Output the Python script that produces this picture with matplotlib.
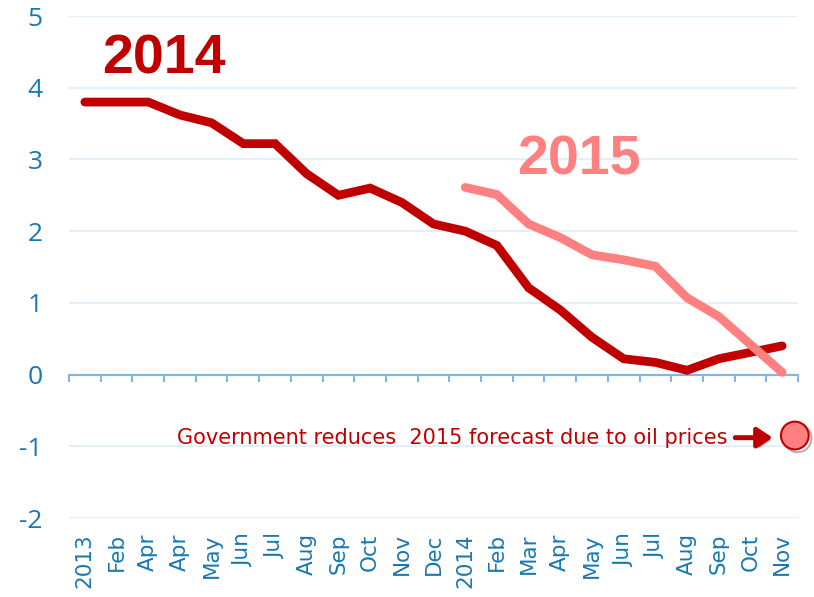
import numpy as np
import matplotlib
matplotlib.use("Agg")
import matplotlib.pyplot as plt
import matplotlib.patheffects as pe

categories = ['2013', 'Feb', 'Apr', 'Apr', 'May', 'Jun', 'Jul', 'Aug', 'Sep', 'Oct', 'Nov', 'Dec',
              '2014', 'Feb', 'Mar', 'Apr', 'May', 'Jun', 'Jul', 'Aug', 'Sep', 'Oct', 'Nov']
forecast_2014 = [3.8, 3.8, 3.8, 3.62, 3.51, 3.22, 3.22, 2.8, 2.5, 2.6, 2.4, 2.1,
                 2.0, 1.8, 1.21, 0.9, 0.52, 0.22, 0.17, 0.06, 0.22, 0.31, 0.40]
forecast_2015 = [np.nan] * 12 + [2.61, 2.51, 2.1, 1.91, 1.67, 1.6, 1.51, 1.07, 0.81, 0.42, 0.03]
y_ticks = [-2, -1, 0, 1, 2, 3, 4, 5]
new_forecast = -0.85

dark_red = '#c00000'
pink = '#ff8080'
blue = '#1a78b0'
axis_blue = '#82b4e4'
grid_blue = '#e3f0fa'

x = np.arange(len(categories))

fig = plt.figure(figsize=(8.14, 5.97), dpi=100)
ax = fig.add_axes([69 / 814, 79 / 597, 729 / 814, 502 / 597])

ax.plot(x, forecast_2014, color=dark_red, lw=6.3, solid_capstyle='round', solid_joinstyle='miter', zorder=3)
ax.plot(x, forecast_2015, color=pink, lw=6.3, solid_capstyle='round', solid_joinstyle='miter', zorder=3)

ax.set_xlim(-0.5, len(categories) - 0.5)
ax.set_ylim(-2, 5)

ax.set_yticks(y_ticks)
ax.set_yticklabels([str(v) for v in y_ticks], fontsize=19, color=blue, family='Open Sans')
ax.tick_params(axis='y', length=0, pad=19)
ax.yaxis.grid(True, color=grid_blue, lw=1.6)
ax.set_axisbelow(True)

for s in ['top', 'right', 'left']:
    ax.spines[s].set_visible(False)
ax.spines['bottom'].set_position(('data', 0))
ax.spines['bottom'].set_color(axis_blue)
ax.spines['bottom'].set_linewidth(1.5)
ax.set_xticks(np.arange(len(categories) + 1) - 0.5)
ax.set_xticklabels([])
ax.tick_params(axis='x', direction='out', length=5, width=1.5, color=axis_blue)

sec = ax.secondary_xaxis('bottom')
sec.set_xticks(x)
sec.set_xticklabels(categories, rotation=90, fontsize=15.5, color=blue, va='top')
sec.tick_params(length=0, pad=11)
sec.spines['bottom'].set_visible(False)

ax.text(2.5, 4.39, '2014', color=dark_red, fontsize=40, fontweight='bold',
        family='Liberation Sans', ha='center', va='center')
ax.text(15.6, 2.98, '2015', color=pink, fontsize=40, fontweight='bold',
        family='Liberation Sans', ha='center', va='center')

ax.text(20.27, -0.88, 'Government reduces  2015 forecast due to oil prices', color=dark_red,
        fontsize=15, family='DejaVu Sans', ha='right', va='center')

shadow = [pe.SimplePatchShadow(offset=(2, -2), alpha=0.3), pe.Normal()]
ax.annotate('', xy=(21.7, -0.88), xytext=(20.52, -0.88),
            arrowprops=dict(arrowstyle='-|>,head_length=0.45,head_width=0.3', color=dark_red, lw=3.6,
                            mutation_scale=20, shrinkA=0, shrinkB=0, path_effects=shadow))
m, = ax.plot([22.4], [new_forecast], 'o', ms=20, mfc=pink, mec=dark_red, mew=1.5, clip_on=False, zorder=5)
m.set_path_effects([pe.SimpleLineShadow(offset=(2, -2), alpha=0.3), pe.Normal()])

fig.savefig('out.png', dpi=100)
